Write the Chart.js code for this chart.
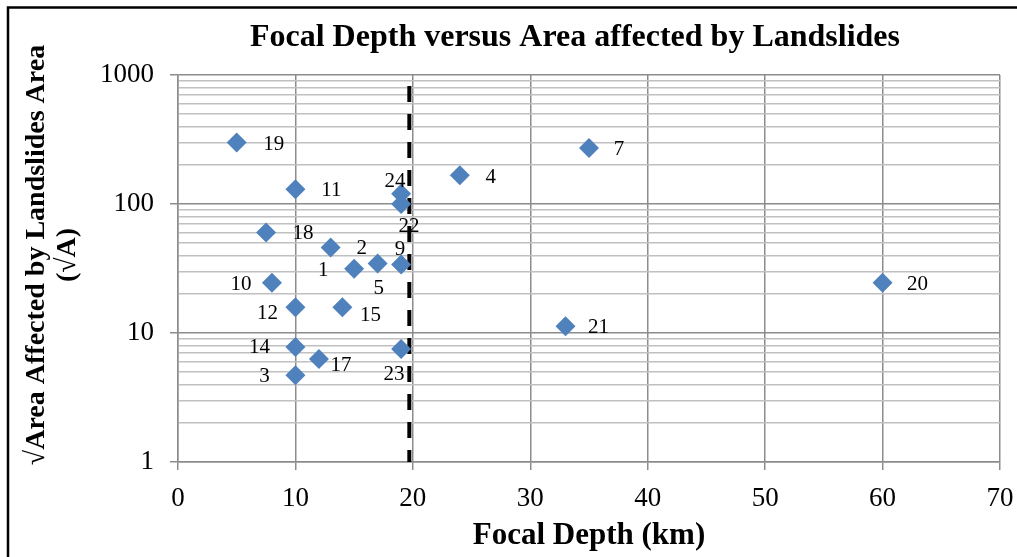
<!DOCTYPE html>
<html>
<head>
<meta charset="utf-8">
<script src="https://cdn.jsdelivr.net/npm/chart.js@4/dist/chart.umd.min.js"></script>
<style>
  html, body { margin: 0; padding: 0; background: #fff; }
  #wrap { width: 1017px; height: 557px; position: relative; }
</style>
</head>
<body>
<div id="wrap"><canvas id="c" width="1017" height="557"></canvas></div>
<script>
// ---- data ----
const eventIds   = [1, 2, 3, 4, 5, 7, 9, 10, 11, 12, 14, 15, 17, 18, 19, 20, 21, 22, 23, 24];
const focalDepth = [15, 13, 10, 24, 17, 35, 19, 8, 10, 10, 10, 14, 12, 7.5, 5, 60, 33, 19, 19, 19];
const sqrtArea   = [31.5, 46, 4.7, 167, 34.5, 272, 34, 24.5, 130, 15.8, 7.8, 15.8, 6.3, 60, 300, 24.5, 11.3, 100, 7.5, 120];
const thresholdDepth = 19.7;
const thresholdSpan  = [820, 1];
const xTickValues = [0, 10, 20, 30, 40, 50, 60, 70];
const yTickValues = [1,2,3,4,5,6,7,8,9,10,20,30,40,50,60,70,80,90,100,200,300,400,500,600,700,800,900,1000];
const yLabelValues = [1, 10, 100, 1000];

const titleText = 'Focal Depth versus Area affected by Landslides';
const xTitleText = 'Focal Depth (km)';
const yTitleLines = ['\u221AArea Affected by Landslides Area', '(\u221AA)'];

// ---- label placement (style) ----
const labelOffsets = {
  1: [-31, 2], 2: [31, 1], 3: [-31, 1], 4: [31, 2], 5: [1, 25], 7: [30, 2],
  9: [-1, -15], 10: [-31, 2], 11: [36, 1], 12: [-28, 6], 14: [-36, 1], 15: [28, 8],
  17: [22, 7], 18: [37, 1], 19: [37, 2], 20: [35, 2], 21: [33, 1], 22: [8, 22],
  23: [-7, 25], 24: [-6, -12]
};

const SERIF = '"Liberation Serif", "Times New Roman", serif';

const points = focalDepth.map((x, i) => ({ x: x, y: sqrtArea[i], id: eventIds[i] }));

const decorPlugin = {
  id: 'decor',
  afterDatasetsDraw(chart) {
    const ctx = chart.ctx;
    const meta = chart.getDatasetMeta(0);
    ctx.save();
    ctx.fillStyle = '#000';
    ctx.font = '21px ' + SERIF;
    ctx.textAlign = 'center';
    ctx.textBaseline = 'middle';
    meta.data.forEach((el, i) => {
      const id = points[i].id;
      const off = labelOffsets[id] || [30, 0];
      ctx.fillText(String(id), el.x + off[0], el.y + off[1]);
    });
    ctx.restore();
  },
  afterDraw(chart) {
    const ctx = chart.ctx;
    const a = chart.chartArea;
    ctx.save();
    // outer frame
    ctx.strokeStyle = '#000';
    ctx.lineWidth = 2.5;
    ctx.strokeRect(8, 7.5, 1030, 600);
    // title
    ctx.fillStyle = '#000';
    ctx.textAlign = 'center';
    ctx.textBaseline = 'middle';
    ctx.font = 'bold 32px ' + SERIF;
    ctx.fillText(titleText, 575, 38);
    // x title
    ctx.font = 'bold 31px ' + SERIF;
    ctx.fillText(xTitleText, (a.left + a.right) / 2, 536);
    // y title
    ctx.save();
    ctx.translate(37, 255);
    ctx.rotate(-Math.PI / 2);
    ctx.font = 'bold 28px ' + SERIF;
    ctx.fillText(yTitleLines[0], 0, 0);
    ctx.fillText(yTitleLines[1], 0, 31);
    ctx.restore();
    ctx.restore();
  }
};

new Chart(document.getElementById('c'), {
  type: 'scatter',
  data: {
    datasets: [
      {
        label: 'Events',
        data: points,
        pointStyle: 'rectRot',
        pointRadius: 10,
        pointHoverRadius: 10,
        backgroundColor: '#4F81BD',
        borderColor: '#4F81BD',
        borderWidth: 0
      },
      {
        label: 'Threshold',
        type: 'line',
        data: thresholdSpan.map(v => ({ x: thresholdDepth, y: v })),
        borderColor: '#000',
        borderWidth: 4,
        borderDash: [16, 12],
        pointRadius: 0,
        fill: false
      }
    ]
  },
  options: {
    responsive: false,
    animation: false,
    layout: { padding: { top: 75, right: 17, bottom: 0, left: 0 } },
    plugins: {
      legend: { display: false },
      title: { display: false },
      tooltip: { enabled: false }
    },
    scales: {
      x: {
        type: 'linear',
        min: 0,
        max: 70,
        afterBuildTicks(scale) { scale.ticks = xTickValues.map(v => ({ value: v })); },
        afterFit(scale) { scale.height = 95; scale.paddingRight = 0; scale.paddingLeft = 0; },
        ticks: {
          autoSkip: false,
          maxRotation: 0,
          padding: 13,
          color: '#000',
          font: { family: SERIF, size: 27 }
        },
        grid: {
          color: '#8c8c8c',
          lineWidth: 1.5,
          tickLength: 8,
          tickColor: '#8c8c8c'
        },
        border: { color: '#8c8c8c', width: 1.5 }
      },
      y: {
        type: 'logarithmic',
        min: 1,
        max: 1000,
        afterBuildTicks(scale) { scale.ticks = yTickValues.map(v => ({ value: v, major: yLabelValues.includes(v) })); },
        afterFit(scale) { scale.width = 178; },
        ticks: {
          autoSkip: false,
          padding: 16,
          color: '#000',
          font: { family: SERIF, size: 27 },
          callback: (v) => yLabelValues.includes(v) ? String(v) : ''
        },
        grid: {
          color: (c) => yLabelValues.includes(c.tick && c.tick.value) ? '#8c8c8c' : '#c0c0c0',
          lineWidth: 1.5,
          tickLength: 8,
          tickColor: (c) => yLabelValues.includes(c.tick && c.tick.value) ? '#8c8c8c' : 'rgba(0,0,0,0)'
        },
        border: { color: '#8c8c8c', width: 1.5 }
      }
    }
  },
  plugins: [decorPlugin]
});
</script>
</body>
</html>
